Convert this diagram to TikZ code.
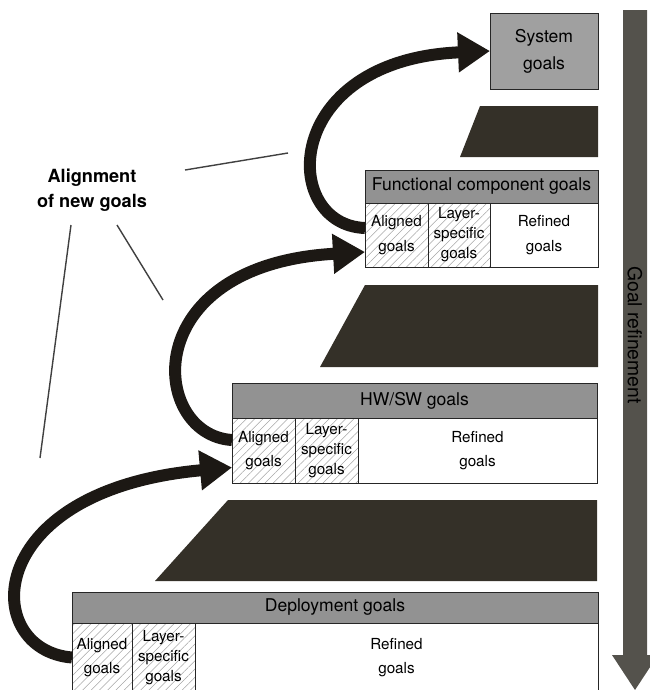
\documentclass[tikz,border=0pt]{standalone}
\usepackage{fontspec}
\setmainfont{TeX Gyre Heros}
\usetikzlibrary{arrows.meta,patterns.meta}

\definecolor{headgray}{RGB}{146,146,146}
\definecolor{sysgray}{RGB}{160,160,160}
\definecolor{darkslab}{RGB}{52,48,40}
\definecolor{bargray}{RGB}{84,82,76}
\definecolor{inkarrow}{RGB}{28,24,20}

\begin{document}
\begin{tikzpicture}
[
    x=0.03cm, y=-0.03cm,
    box/.style={draw=black!85, line width=0.7pt, inner sep=0pt, outer sep=0pt, anchor=north west},
    head/.style={box, fill=headgray, font=\fontsize{15}{18}\selectfont},
    cell/.style={box, align=center, font=\fontsize{13}{17}\selectfont},
    hatched/.style={cell, pattern={Lines[angle=45,distance=5pt,line width=0.45pt]}, pattern color=black!35},
    slab/.style={fill=darkslab},
    alignarrow/.style={draw=inkarrow, line width=0.36cm, -{Triangle[length=0.96cm,width=1.14cm]}},
    pointer/.style={draw=black!75, line width=1.2pt},
]
\useasboundingbox (0,0) rectangle (650,690);
\clip (0,0) rectangle (650,690);

% top level
\node [box, fill=sysgray, minimum width=3.24cm, minimum height=2.28cm, align=center,
       font=\fontsize{15}{18}\selectfont] (sys) at (490,13) {System\\[5pt]goals};
\fill [slab] (480,106) -- (598,106) -- (598,157) -- (460,157) -- cycle;

% functional component layer
\node [head, minimum width=6.99cm, minimum height=0.99cm] (fhead) at (365,170) {Functional component goals};
\node [hatched, minimum width=1.89cm, minimum height=1.92cm] (fa) at (365,203) {Aligned\\[4pt]goals};
\node [hatched, minimum width=1.86cm, minimum height=1.92cm] (fl) at (428,203) {Layer-\\specific\\goals};
\node [cell, minimum width=3.24cm, minimum height=1.92cm] (fr) at (490,203) {Refined\\[4pt]goals};
\fill [slab] (365,285) -- (598,285) -- (598,367) -- (320,367) -- cycle;

% hw/sw layer
\node [head, minimum width=10.95cm, minimum height=1.05cm] (hhead) at (232,383) {HW/SW goals};
\node [hatched, minimum width=1.89cm, minimum height=1.95cm] (ha) at (232,418) {Aligned\\[4pt]goals};
\node [hatched, minimum width=1.89cm, minimum height=1.95cm] (hl) at (295,418) {Layer-\\specific\\goals};
\node [cell, minimum width=7.17cm, minimum height=1.95cm] (hr) at (358,418) {Refined\\[4pt]goals};
\fill [slab] (228,500) -- (597,500) -- (597,581) -- (155,581) -- cycle;

% deployment layer
\node [head, minimum width=15.78cm, minimum height=0.93cm] (dhead) at (72,592) {Deployment goals};
\node [hatched, minimum width=1.8cm, minimum height=2.07cm] (da) at (72,623) {Aligned\\[4pt]goals};
\node [hatched, minimum width=1.89cm, minimum height=2.07cm] (dl) at (132,623) {Layer-\\specific\\goals};
\node [cell, minimum width=12.09cm, minimum height=2.07cm] (dr) at (195,623) {Refined\\[4pt]goals};

% refinement bar
\fill [bargray] (623,10) -- (647,10) -- (647,655) -- (658,655) -- (635,690) -- (612,655) -- (623,655) -- cycle;
\node [rotate=-90, font=\fontsize{16.5}{18}\selectfont] (refine) at (635,335) {Goal refinement};

% alignment arrows
\draw [alignarrow] (da.west) .. controls (-20,650) and (-20,490) .. ([yshift=-0.51cm]ha.west);
\draw [alignarrow] ([yshift=0.315cm]ha.west) .. controls (150,435) and (135,265) .. ([yshift=-0.51cm]fa.west);
\draw [alignarrow] ([yshift=0.21cm]fa.west) .. controls (280,225) and (280,60) .. (sys.west);

% label and pointers
\node [align=center, font=\bfseries\fontsize{15.5}{21}\selectfont] (lbl) at (92,190) {Alignment\\of new goals};
\coordinate (s1) at (185,170);
\coordinate (e1) at (288,153);
\coordinate (s2) at (117,225);
\coordinate (e2) at (163,300);
\coordinate (s3) at (71,225);
\coordinate (e3) at (40,458);
\draw [pointer] (s1) -- (e1);
\draw [pointer] (s2) -- (e2);
\draw [pointer] (s3) -- (e3);
\end{tikzpicture}
\end{document}
